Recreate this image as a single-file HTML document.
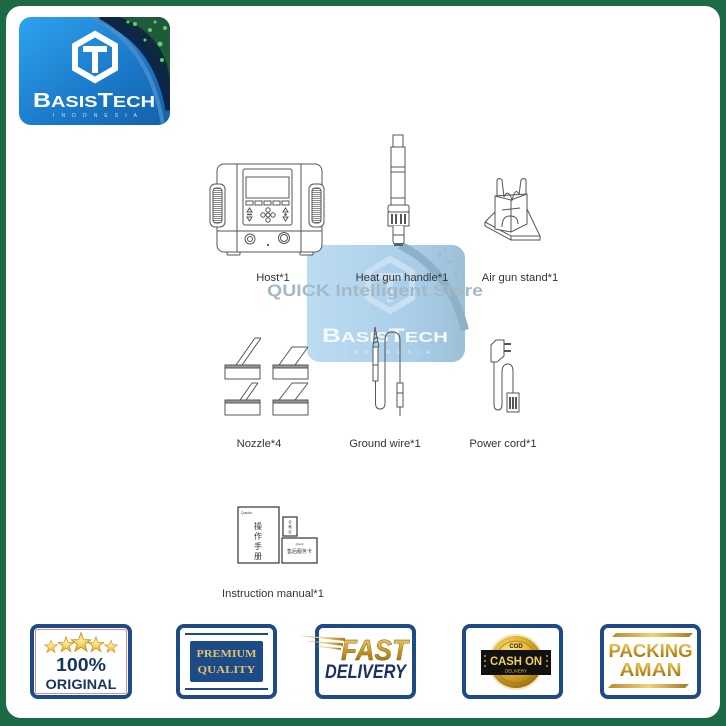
<!DOCTYPE html>
<html><head><meta charset="utf-8"><style>
html,body{margin:0;padding:0;background:#1d6b46;}
svg{display:block}
</style></head><body>
<svg width="726" height="726" viewBox="0 0 726 726" xmlns="http://www.w3.org/2000/svg" font-family="Liberation Sans, Arial, sans-serif">
<defs>
<linearGradient id="lg" x1="0" y1="0" x2="1" y2="1">
<stop offset="0" stop-color="#2ea3ee"/><stop offset="0.6" stop-color="#1a78c8"/><stop offset="1" stop-color="#1460a8"/>
</linearGradient>
<linearGradient id="wm" x1="0" y1="0" x2="1" y2="0">
<stop offset="0" stop-color="#bcdcf1"/><stop offset="0.7" stop-color="#a9cde8"/><stop offset="1" stop-color="#9cbfd6"/>
</linearGradient>
<linearGradient id="gold" x1="0" y1="0" x2="0" y2="1">
<stop offset="0" stop-color="#f3d77a"/><stop offset="0.5" stop-color="#c9961f"/><stop offset="1" stop-color="#8c6410"/>
</linearGradient>
<linearGradient id="gold2" x1="0" y1="0" x2="1" y2="0">
<stop offset="0" stop-color="#b98a2a"/><stop offset="0.5" stop-color="#f0d27a"/><stop offset="1" stop-color="#a77a1e"/>
</linearGradient>
<radialGradient id="coin" cx="0.4" cy="0.35" r="0.7">
<stop offset="0" stop-color="#fff2a8"/><stop offset="0.5" stop-color="#e2b633"/><stop offset="1" stop-color="#9a6c0c"/>
</radialGradient>
<radialGradient id="star" cx="0.5" cy="0.4" r="0.6">
<stop offset="0" stop-color="#fff3a0"/><stop offset="1" stop-color="#e8a317"/>
</radialGradient>
<pattern id="hatch" width="3" height="2" patternUnits="userSpaceOnUse">
<rect width="3" height="2" fill="#fff"/><rect y="0" width="3" height="1" fill="#8a8a8a"/>
</pattern>
<polygon id="st" points="0,-10 2.35,-3.24 9.51,-3.09 3.8,1.24 5.88,8.09 0,4 -5.88,8.09 -3.8,1.24 -9.51,-3.09 -2.35,-3.24"/>
</defs>

<!-- frame -->
<rect x="0" y="0" width="726" height="726" fill="#1d6b46"/>
<rect x="6" y="6" width="714" height="712" rx="15" fill="#ffffff"/>

<!-- top-left logo -->
<g>
<clipPath id="lc"><rect x="19" y="17" width="151" height="108" rx="12"/></clipPath>
<g clip-path="url(#lc)">
<rect x="19" y="17" width="151" height="108" fill="url(#lg)"/>
<path d="M105 17 Q160 40 170 105 L170 17 Z" fill="#0d2a3c"/>
<path d="M120 17 Q165 35 170 80 L170 17 Z" fill="#1f5a3a"/>
<g fill="#5bd36a">
<circle cx="135" cy="24" r="2"/><circle cx="150" cy="30" r="2"/><circle cx="160" cy="44" r="2.5"/><circle cx="145" cy="40" r="1.5"/><circle cx="162" cy="60" r="2"/><circle cx="128" cy="22" r="1.5"/><circle cx="155" cy="22" r="1.5"/><circle cx="165" cy="28" r="2"/>
</g>
<path d="M100 17 Q158 40 170 110" stroke="#0b2647" stroke-width="9" fill="none"/>
<path d="M92 17 Q150 45 163 125" stroke="#4f8fc9" stroke-width="4" fill="none" opacity="0.8"/>
</g>
<polygon points="95,34 115,45.5 115,68.5 95,80 75,68.5 75,45.5" fill="none" stroke="#fff" stroke-width="6" stroke-linejoin="miter"/>
<path d="M83 49 H107 M95 49 V73" stroke="#fff" stroke-width="6" fill="none"/>
<text x="33" y="107" fill="#fff" font-weight="bold" textLength="122" lengthAdjust="spacingAndGlyphs"><tspan font-size="20">B</tspan><tspan font-size="16">ASIS</tspan><tspan font-size="20">T</tspan><tspan font-size="16">ECH</tspan></text>
<text x="53" y="117" fill="#cfe3f5" font-size="5" textLength="84" lengthAdjust="spacing">INDONESIA</text>
</g>

<!-- watermark -->
<g>
<rect x="307" y="245" width="158" height="117" rx="13" fill="url(#wm)"/>
<path d="M400 245 Q450 270 465 330" stroke="#8fb1c8" stroke-width="8" fill="none"/>
<g fill="#8fb8b0" opacity="0.7"><circle cx="440" cy="255" r="1.5"/><circle cx="450" cy="262" r="1.5"/><circle cx="456" cy="274" r="1.5"/><circle cx="445" cy="250" r="1.2"/></g>
<polygon points="390,259 412,272 412,298 390,311 368,298 368,272" fill="none" stroke="#c8e0f1" stroke-width="6"/>
<path d="M377 276 H403 M390 276 V302" stroke="#c8e0f1" stroke-width="6" fill="none"/>
<text x="267" y="296" fill="#a3b9c9" font-size="16.5" font-weight="bold" textLength="216" lengthAdjust="spacingAndGlyphs">QUICK Intelligent Store</text>
<text x="322" y="342" fill="#f4f9fd" font-weight="bold" textLength="126" lengthAdjust="spacingAndGlyphs"><tspan font-size="19">B</tspan><tspan font-size="15">ASIS</tspan><tspan font-size="19">T</tspan><tspan font-size="15">ECH</tspan></text>
<text x="345" y="354" fill="#e6f1fa" font-size="5" textLength="85" lengthAdjust="spacing">INDONESIA</text>
</g>

<!-- drawings -->
<g fill="none" stroke="#555" stroke-width="1">
<!-- Host -->
<rect x="227" y="250" width="13" height="5" rx="1" fill="#fff"/>
<rect x="300" y="250" width="13" height="5" rx="1" fill="#fff"/>
<rect x="217" y="164" width="105" height="88" rx="7" fill="#fff"/>
<line x1="237" y1="164" x2="237" y2="252"/><line x1="301" y1="164" x2="301" y2="252"/>
<line x1="217" y1="231" x2="322" y2="231"/>
<rect x="243" y="169" width="49" height="56" rx="2"/>
<rect x="246" y="177" width="43" height="21"/>
<rect x="246" y="201" width="7" height="4"/><rect x="255" y="201" width="7" height="4"/><rect x="264" y="201" width="7" height="4"/><rect x="273" y="201" width="7" height="4"/><rect x="282" y="201" width="7" height="4"/>
<path d="M247 212 L249.5 208 L252 212 Z M247 217 L249.5 221 L252 217 Z M283 212 L285.5 208 L288 212 Z M283 217 L285.5 221 L288 217 Z"/>
<line x1="247" y1="214.5" x2="252" y2="214.5" stroke-width="1.5"/><circle cx="285.5" cy="214.5" r="0.8" fill="#555"/>
<circle cx="268" cy="210" r="2.2"/><circle cx="268" cy="220" r="2.2"/><circle cx="263" cy="215" r="2.2"/><circle cx="273" cy="215" r="2.2"/><circle cx="268" cy="215" r="2"/>
<circle cx="250" cy="239" r="5"/><circle cx="250" cy="239" r="2.5"/>
<circle cx="284" cy="238" r="5.5"/><circle cx="284" cy="238" r="3.5"/>
<circle cx="268" cy="245" r="0.6" fill="#555"/>
<rect x="210" y="184" width="15" height="43" rx="5" fill="#fff"/>
<rect x="213" y="188" width="9" height="35" rx="3" fill="url(#hatch)"/>
<rect x="309" y="184" width="15" height="43" rx="5" fill="#fff"/>
<rect x="312" y="188" width="9" height="35" rx="3" fill="url(#hatch)"/>

<!-- Heat gun -->
<rect x="393" y="135" width="10" height="12" fill="#fff"/>
<rect x="391" y="147" width="14" height="58" fill="#fff"/>
<rect x="391" y="167" width="14" height="5"/>
<line x1="391" y1="198" x2="405" y2="198"/>
<rect x="388" y="205" width="21" height="7" rx="2" fill="#fff"/>
<rect x="388" y="212" width="21" height="14" fill="#fff"/>
<g fill="#555" stroke="none"><rect x="391" y="214" width="2" height="10"/><rect x="395" y="214" width="2" height="10"/><rect x="400" y="214" width="2" height="10"/><rect x="404" y="214" width="2" height="10"/></g>
<path d="M393 226 V241 Q393 244 396 244 H401 Q404 244 404 241 V226" fill="#fff"/>
<line x1="393" y1="235" x2="404" y2="235"/>
<rect x="394" y="243" width="9" height="3" fill="#4a6b58" stroke="none"/>

<!-- Air gun stand -->
<path d="M485 222 L498 209 L527 209 L540 236 L511 236 Z" fill="#fff"/>
<path d="M485 222 L485 226 L511 240 L540 240 L540 236 M511 236 L511 240"/>
<path d="M495 196 L495 229 L511 232 L527 224 L527 194 Z" fill="#fff"/>
<path d="M495 196 L511 200 L527 194 M511 200 L511 232"/>
<path d="M497 196 L497 180 Q499 177 502 180 L504 197"/>
<path d="M519 195 L521 180 Q524 177 526 180 L526 194"/>
<path d="M504 197 Q508 188 512 200 Q516 186 519 195"/>
<path d="M502 227 Q502 216 510 216 Q518 216 518 224"/>
<line x1="502" y1="210" x2="520" y2="208"/>

<!-- Nozzles -->
<path d="M255 338 L236 365 M261 338 L242 365 M255 338 H261"/>
<rect x="225" y="365" width="35" height="14" fill="#fff"/>
<rect x="225" y="365" width="35" height="3" fill="#999"/>
<path d="M292 347 L279 365 M308 347 L295 365 M292 347 H308"/>
<rect x="273" y="365" width="35" height="14" fill="#fff"/>
<rect x="273" y="365" width="35" height="3" fill="#999"/>
<path d="M252 383 L240 400 M258 383 L246 400 M252 383 H258"/>
<rect x="225" y="400" width="35" height="15" fill="#fff"/>
<rect x="225" y="400" width="35" height="3" fill="#999"/>
<path d="M292 383 L279 400 M308 383 L295 400 M292 383 H308"/>
<rect x="273" y="400" width="35" height="15" fill="#fff"/>
<rect x="273" y="400" width="35" height="3" fill="#999"/>

<!-- Ground wire -->
<path d="M373 347 L375 327 L379 347 M374 335 L377 333 M374 339 L378 337 M374 343 L378 341"/>
<rect x="373" y="347" width="5" height="34" fill="#fff"/>
<line x1="373" y1="365" x2="378" y2="365"/>
<path d="M375.5 381 V403 Q375.5 409 380 409 Q385 409 385 403 V340 Q385 332 392 332 Q400 332 400 340 V383"/>
<rect x="397" y="383" width="6" height="24" fill="#fff"/>
<line x1="397" y1="393" x2="403" y2="393"/>
<line x1="400" y1="407" x2="400" y2="416"/>

<!-- Power cord -->
<path d="M491 345 L496 340 L504 340 L504 356 L497 362 L491 362 Z" fill="#fff"/>
<path d="M504 344 H511 M504 351 H511" stroke-width="2"/>
<path d="M494 362 V404 Q494 410 498 410 Q502 410 502 404 V372 Q502 364 508 364 Q513 364 513 372 V393"/>
<rect x="507" y="393" width="12" height="19" fill="#fff"/>
<g stroke="none" fill="#555"><rect x="509" y="397" width="2" height="12"/><rect x="512" y="397" width="2" height="12"/><rect x="515" y="397" width="2" height="12"/></g>

<!-- Instruction manual -->
<rect x="238" y="507" width="41" height="56" fill="#fff" stroke="#333" stroke-width="1.2"/>
<rect x="283" y="517" width="14" height="19" fill="#fff" stroke="#333" stroke-width="1.2"/>
<rect x="282" y="538" width="35" height="25" fill="#fff" stroke="#333" stroke-width="1.2"/>
</g>
<g font-family="Liberation Sans, Noto Sans CJK SC, sans-serif" fill="#333">
<text x="241" y="514" font-size="3.5">Quicko</text>
<text x="258" y="529" font-size="8" text-anchor="middle">操</text>
<text x="258" y="539" font-size="8" text-anchor="middle">作</text>
<text x="258" y="549" font-size="8" text-anchor="middle">手</text>
<text x="258" y="559" font-size="8" text-anchor="middle">册</text>
<text x="290" y="523" font-size="3.5" text-anchor="middle">合</text>
<text x="290" y="528" font-size="3.5" text-anchor="middle">格</text>
<text x="290" y="533" font-size="3.5" text-anchor="middle">证</text>
<text x="299.5" y="545" font-size="3" text-anchor="middle">Quick</text>
<text x="299.5" y="553" font-size="5" text-anchor="middle">售后服务卡</text>
</g>

<!-- labels -->
<g fill="#333" font-size="11.2" text-anchor="middle">
<text x="273" y="281">Host*1</text>
<text x="402" y="281">Heat gun handle*1</text>
<text x="520" y="281">Air gun stand*1</text>
<text x="259" y="447">Nozzle*4</text>
<text x="385" y="447">Ground wire*1</text>
<text x="503" y="447">Power cord*1</text>
<text x="273" y="597">Instruction manual*1</text>
</g>

<!-- Badge 1 -->
<rect x="32" y="626" width="98" height="71" rx="6" fill="#fff" stroke="#1c4b87" stroke-width="4"/>
<rect x="35.5" y="629.5" width="91" height="64" rx="2" fill="none" stroke="#c86a7c" stroke-width="0.8"/>
<g fill="url(#star)" stroke="#c07a10" stroke-width="0.6">
<use href="#st" transform="translate(51,647) scale(0.7)"/>
<use href="#st" transform="translate(111,647) scale(0.7)"/>
<use href="#st" transform="translate(66,645) scale(0.85)"/>
<use href="#st" transform="translate(96,645) scale(0.85)"/>
<use href="#st" transform="translate(81,643) scale(1.05)"/>
</g>
<text x="81" y="671" text-anchor="middle" fill="#17365f" font-weight="bold" font-size="18" textLength="50" lengthAdjust="spacingAndGlyphs">100%</text>
<text x="81" y="689" text-anchor="middle" fill="#17365f" font-weight="bold" font-size="14" textLength="71" lengthAdjust="spacingAndGlyphs">ORIGINAL</text>

<!-- Badge 2 -->
<rect x="178" y="626" width="97" height="71" rx="6" fill="#fff" stroke="#1c4b87" stroke-width="4"/>
<rect x="185" y="633" width="83" height="2" fill="#1c4b87"/>
<rect x="185" y="688" width="83" height="2" fill="#1c4b87"/>
<rect x="190" y="641" width="73" height="41" rx="2" fill="#1c4b87"/>
<text x="226.5" y="657" text-anchor="middle" fill="#e2c06c" font-family="Liberation Serif, serif" font-weight="bold" font-size="10.5" textLength="60" lengthAdjust="spacingAndGlyphs">PREMIUM</text>
<text x="226.5" y="673" text-anchor="middle" fill="#e2c06c" font-family="Liberation Serif, serif" font-weight="bold" font-size="10.5" textLength="58" lengthAdjust="spacingAndGlyphs">QUALITY</text>

<!-- Badge 3 -->
<rect x="317" y="626" width="97" height="71" rx="6" fill="#fff" stroke="#1c4b87" stroke-width="4"/>
<path d="M300 636 L345 638 L345 641 Z" fill="url(#gold2)"/>
<path d="M306 641 L343 643 L343 646 Z" fill="url(#gold2)"/>
<path d="M314 646 L341 648 L341 650 Z" fill="url(#gold2)"/>
<text x="341" y="660" fill="url(#gold)" stroke="#7a5510" stroke-width="0.4" font-weight="bold" font-style="italic" font-size="29" textLength="67" lengthAdjust="spacingAndGlyphs">FAST</text>
<text x="325" y="678" fill="#1c2f63" font-weight="bold" font-style="italic" font-size="19" textLength="81" lengthAdjust="spacingAndGlyphs">DELIVERY</text>

<!-- Badge 4 -->
<rect x="464" y="626" width="97" height="71" rx="6" fill="#fff" stroke="#1c4b87" stroke-width="4"/>
<circle cx="516" cy="662" r="28" fill="#f1e6c0"/>
<circle cx="516" cy="662" r="26" fill="url(#coin)"/>
<circle cx="516" cy="662" r="21" fill="none" stroke="#a7780f" stroke-width="0.8"/>
<text x="516" y="648" text-anchor="middle" fill="#2a1e05" font-weight="bold" font-size="6">COD</text>
<path d="M481 650 H551 V675 H481 Z" fill="#111"/>
<g fill="#e8c34a"><circle cx="485" cy="656" r="0.9"/><circle cx="485" cy="661" r="0.9"/><circle cx="485" cy="666" r="0.9"/><circle cx="547" cy="656" r="0.9"/><circle cx="547" cy="661" r="0.9"/><circle cx="547" cy="666" r="0.9"/></g>
<text x="516" y="665" text-anchor="middle" fill="#f0cf5a" font-weight="bold" font-size="12" textLength="52" lengthAdjust="spacingAndGlyphs">CASH ON</text>
<text x="516" y="672.5" text-anchor="middle" fill="#e8c34a" font-size="4.5" textLength="22" lengthAdjust="spacingAndGlyphs">DELIVERY</text>

<!-- Badge 5 -->
<rect x="602" y="626" width="97" height="71" rx="6" fill="#fff" stroke="#1c4b87" stroke-width="4"/>
<path d="M616 633 H693 L689 637 H612 Z" fill="url(#gold2)"/>
<path d="M612 684 H689 L685 688 H608 Z" fill="url(#gold2)"/>
<text x="650.5" y="657" text-anchor="middle" fill="url(#gold)" font-weight="bold" font-size="18" textLength="84" lengthAdjust="spacingAndGlyphs">PACKING</text>
<text x="650.5" y="676" text-anchor="middle" fill="url(#gold)" font-weight="bold" font-size="18" textLength="62" lengthAdjust="spacingAndGlyphs">AMAN</text>
</svg>
</body></html>
